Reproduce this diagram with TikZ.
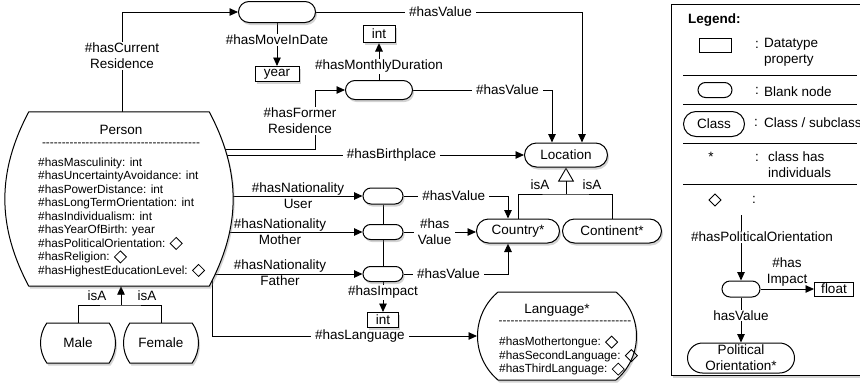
\documentclass[tikz,border=0pt]{standalone}
\usepackage{fontspec}
\setmainfont{Liberation Sans}
\usetikzlibrary{shapes.misc,shapes.geometric,arrows.meta,shadows,backgrounds,calc}
\pgfdeclarelayer{shapes}
\pgfsetlayers{background,shapes,main}
\newcommand\dmd{\tikz[baseline=-3.8pt]\draw[line width=0.8pt,x=1pt,y=1pt] (0,0)--(6,6)--(12,0)--(6,-6)--cycle;}
\newcommand\hyphrule[1]{\hbox to #1{\xleaders\hbox{-}\hfill}}
\newcommand\fm{\fontsize{13.5}{16}\selectfont}
\newcommand\fs{\fontsize{11.8}{13.5}\selectfont}
\tikzset{
  shd/.style={drop shadow={shadow xshift=1.5pt,shadow yshift=-2.5pt,opacity=0.35}},
  box/.style={draw,fill=white,line width=1pt,inner sep=0pt,font=\fm,align=center},
  pill/.style={box,rounded rectangle},
  blob/.style={box,rounded rectangle,rounded rectangle arc length=#1},
  dtbox/.style={box,rectangle},
  lbl/.style={font=\fm,align=center,inner sep=1pt},
  wlbl/.style={lbl,fill=white,inner xsep=4pt,inner ysep=1pt},
  edge/.style={line width=0.9pt},
  arr/.style={edge,-{Triangle[length=8.5pt,width=7.5pt]}},
  isa/.style={edge,-{Triangle[open,length=14pt,width=16pt,line width=0.9pt]}},
  attr/.style={inner sep=0pt,font=\fs,align=left,anchor=north west},
  outline/.style={line width=1pt,fill=white,draw},
}
\begin{document}
\begin{tikzpicture}[x=1pt,y=-1pt]
\useasboundingbox (0,0) rectangle (860,386);
% legend frame
\node[box,shd,rectangle,anchor=north west,minimum width=199pt,minimum height=371pt] (legend) at (671,4) {};
% main nodes
\node[pill,shd,minimum width=77pt,minimum height=21pt] (B1) at (277,12) {};
\node[dtbox,shd,minimum width=44pt,minimum height=15pt] (year) at (277,74) {year};
\node[dtbox,shd,minimum width=32pt,minimum height=17pt] (intA) at (379,34) {int};
\node[pill,shd,minimum width=67pt,minimum height=19pt] (B2) at (379,90) {};
\node[pill,shd,minimum width=83pt,minimum height=24pt] (Loc) at (566,155) {Location};
\node[inner sep=0pt,minimum width=228pt,minimum height=174pt] (Person) at (119,199) {};
\begin{pgfonlayer}{shapes}
\path[outline,shd] ([xshift=24pt]Person.north west) -- ([xshift=-24pt]Person.north east)
  to[bend left=28] ([xshift=-24pt]Person.south east) -- ([xshift=24pt]Person.south west)
  to[bend left=28] ([xshift=24pt]Person.north west) -- cycle;
\end{pgfonlayer}
\node[blob=70,shd,minimum width=75pt,minimum height=40pt] (Male) at (78,343) {Male};
\node[blob=70,shd,minimum width=75pt,minimum height=40pt] (Female) at (161,343) {Female};
\node[pill,shd,minimum width=40pt,minimum height=16pt] (B3) at (383,196) {};
\node[pill,shd,minimum width=40pt,minimum height=15pt] (B4) at (383,232) {};
\node[pill,shd,minimum width=40pt,minimum height=15pt] (B5) at (383,274) {};
\node[pill,shd,minimum width=83pt,minimum height=24pt] (Country) at (518,231) {Country*};
\node[pill,shd,minimum width=99pt,minimum height=24pt] (Cont) at (612,231) {Continent*};
\node[dtbox,shd,minimum width=31pt,minimum height=15pt] (intB) at (383,320) {int};
\node[blob=100,shd,minimum width=159pt,minimum height=88pt] (Lang) at (557,336) {};
% Person content
\node[lbl] (pT) at (121,130) {Person};
\node[inner sep=0pt,font=\fs] (pR) at (121,145) {\hyphrule{158pt}};
\node[attr] (pA) at (38,157.5) {\#hasMasculinity: int\\\#hasUncertaintyAvoidance: int\\\#hasPowerDistance: int\\\#hasLongTermOrientation: int\\\#hasIndividualism: int\\\#hasYearOfBirth: year\\\#hasPoliticalOrientation: \dmd\\\#hasReligion: \dmd\\\#hasHighestEducationLevel: \dmd};
% Language content
\node[lbl] (lT) at (557,310) {Language*};
\node[inner sep=0pt,font=\fs] (lR) at (565,323) {\hyphrule{133pt}};
\node[attr] (lA) at (499,335.5) {\#hasMothertongue: \dmd\\\#hasSecondLanguage: \dmd\\\#hasThirdLanguage: \dmd};
% connectors
\begin{pgfonlayer}{background}
\draw[arr] ([xshift=3pt]Person.north) |- (B1.west) node[wlbl,pos=0.28] {\#hasCurrent\\Residence};
\draw[arr] (B1.east) -| ([xshift=16pt]Loc.north) node[wlbl,pos=0.234] {\#hasValue};
\draw[arr] (B1.south) -- (year.north) node[wlbl,pos=0.39] {\#hasMoveInDate};
\draw[arr] (B2.north) -- (intA.south) node[wlbl,pos=0.37] {\#hasMonthlyDuration};
\draw[arr] ([yshift=50pt]Person.center) -| ([xshift=-30pt]B2.west) -- (B2.west);
\node[wlbl] (lFR) at (300,121) {\#hasFormer\\Residence};
\draw[arr] (B2.east) -| ([xshift=-14pt]Loc.north) node[wlbl,pos=0.34] {\#hasValue};
\draw[arr] (Person.center |- Loc.west) -- (Loc.west) node[wlbl,pos=0.673] {\#hasBirthplace};
\draw[arr] (Person.center |- B3.west) -- (B3.west);
\node[lbl] (lNU) at (298,196) {\#hasNationality\\User};
\draw[arr] (Person.center |- B4.west) -- (B4.west);
\node[lbl] (lNM) at (280,232) {\#hasNationality\\Mother};
\draw[arr] (Person.center |- B5.west) -- (B5.west);
\node[lbl] (lNF) at (280,273) {\#hasNationality\\Father};
\draw[edge] (B3) -- (B4) -- (B5);
\draw[arr] (B5.south) -- (intB.north) node[wlbl,pos=0.35] {\#hasImpact};
\draw[arr] (B3.east) -| ([xshift=-10pt]Country.north) node[wlbl,pos=0.24] {\#hasValue};
\draw[arr] (B4.east) -- (B4.east -| Country.west) node[wlbl,pos=0.43] {\#has\\Value};
\draw[arr] (B5.east) -| ([xshift=-10pt]Country.south) node[wlbl,pos=0.215] {\#hasValue};
\coordinate (isaJ) at (566,194);
\draw[edge] (Country.north) |- (isaJ) -| (Cont.north);
\draw[isa] (isaJ) -- (Loc.south);
\node[lbl] at (540,185) {isA};
\node[lbl] at (592,185) {isA};
\coordinate (isaP) at (121,305);
\draw[edge] (Male.north) |- (isaP) -| (Female.north);
\draw[arr] (isaP) -- (isaP |- Person.south);
\node[lbl] at (97,296) {isA};
\node[lbl] at (147,296) {isA};
\draw[arr] ([xshift=93pt]Person.center) |- (Lang.west) node[wlbl,pos=0.779] {\#hasLanguage};
\end{pgfonlayer}
% legend content
\node[font=\fm\bfseries,anchor=west,inner sep=0pt] (lgH) at (688,20) {Legend:};
\node[dtbox,minimum width=32pt,minimum height=14pt] (lgDT) at (715,45) {};
\node[lbl] at (757,45) {:};
\node[lbl,align=left,anchor=west] at (763,52) {Datatype\\property};
\draw[edge] (683,75) -- (857,75);
\node[pill,minimum width=34pt,minimum height=15pt] (lgBN) at (715,90) {};
\node[lbl] at (757,91) {:};
\node[lbl,anchor=west] at (763,92) {Blank node};
\draw[edge] (683,104) -- (857,104);
\node[pill,minimum width=61pt,minimum height=25pt] (lgCl) at (714,124) {Class};
\node[lbl] at (756,123) {:};
\node[lbl,anchor=west] at (763,123) {Class / subclass};
\draw[edge] (683,143) -- (857,143);
\node[lbl] at (711,157) {*};
\node[lbl] at (757,158) {:};
\node[lbl,align=left,anchor=west] at (767,165) {class has\\individuals};
\draw[edge] (683,184) -- (857,184);
\node[inner sep=0pt] (lgD) at (715,200) {\dmd};
\node[lbl] at (754,200) {:};
\coordinate (lgTop) at (741,215);
\node[pill,minimum width=38pt,minimum height=16pt] (lgB) at (741,289) {};
\node[dtbox,minimum width=39pt,minimum height=14pt] (lgF) at (834,289) {float};
\node[pill,minimum width=107pt,minimum height=30pt] (lgPO) at (741,358) {Political\\Orientation*};
\draw[arr] (lgTop) -- (lgB.north);
\node[wlbl] (lgPL) at (762,237) {\#hasPoliticalOrientation};
\draw[arr] (lgB.east) -- (lgF.west);
\node[lbl] (lgIL) at (787,272) {\#has\\Impact};
\draw[arr] (lgB.south) -- (lgPO.north) node[wlbl,pos=0.4] {hasValue};
\end{tikzpicture}
\end{document}
